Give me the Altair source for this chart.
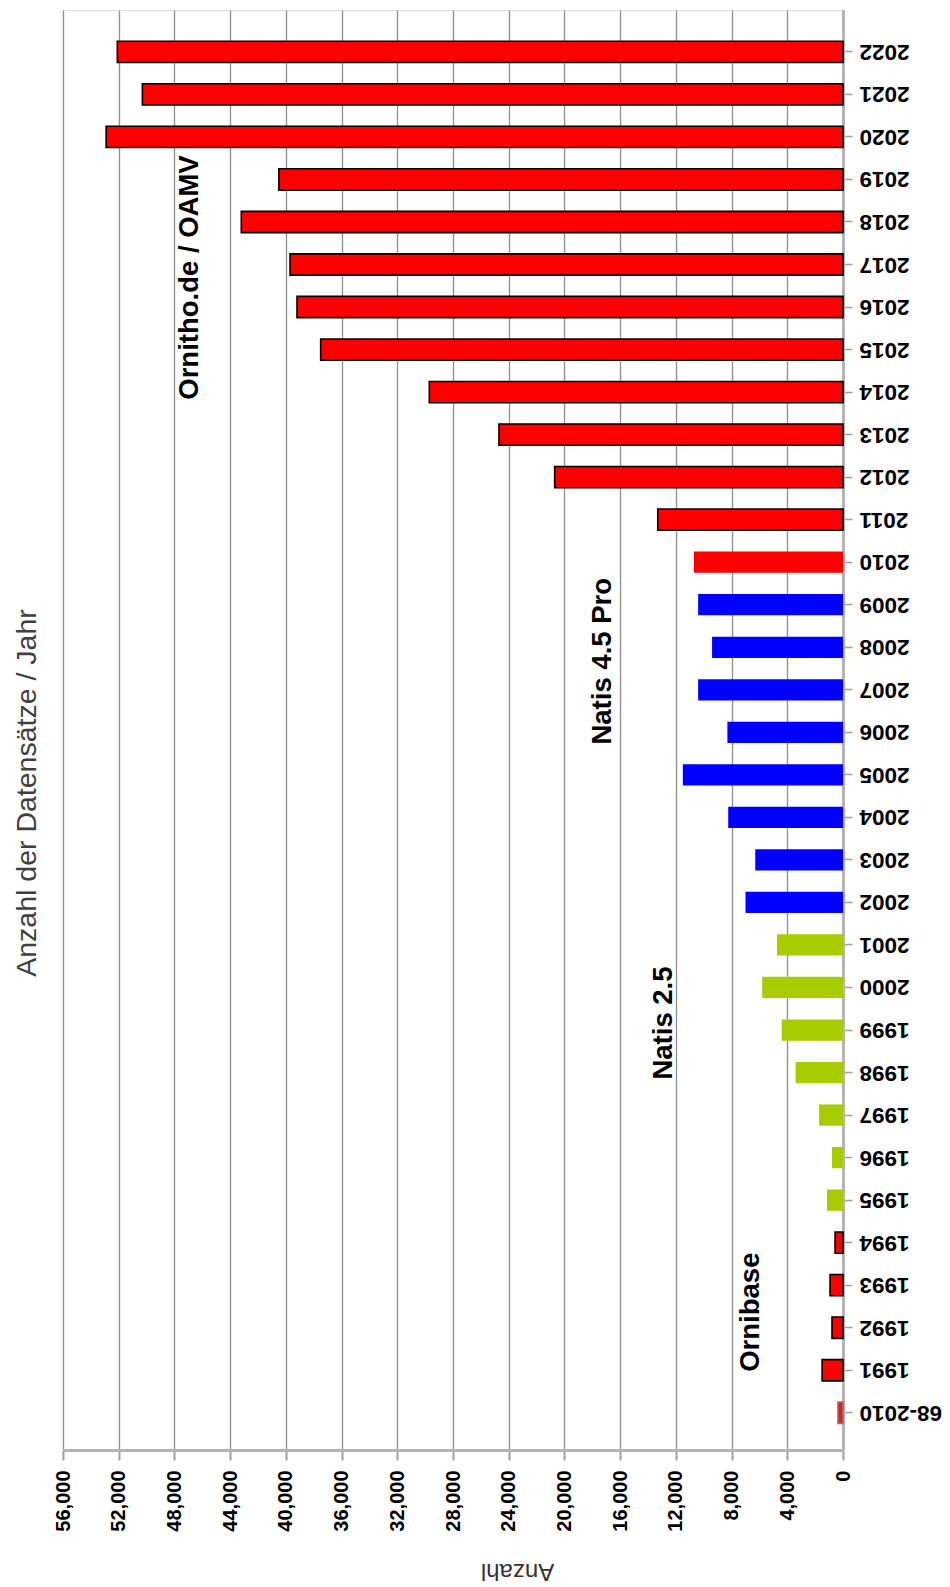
import altair as alt
import pandas as pd

# ---- data ----
years = ["68-2010", "1991", "1992", "1993", "1994", "1995", "1996", "1997",
         "1998", "1999", "2000", "2001", "2002", "2003", "2004", "2005",
         "2006", "2007", "2008", "2009", "2010", "2011", "2012", "2013",
         "2014", "2015", "2016", "2017", "2018", "2019", "2020", "2021", "2022"]
counts = [360, 1500, 790, 930, 570, 1150, 790, 1720,
          3400, 4400, 5800, 4740, 7000, 6300, 8240, 11500,
          8300, 10400, 9400, 10400, 10700, 13300, 20700, 24700,
          29700, 37500, 39200, 39700, 43200, 40500, 52900, 50300, 52100]
sources = (["Altdaten"] + ["Ornibase"] * 4 + ["Natis 2.5"] * 7 +
           ["Natis 4.5 Pro"] * 8 + ["Übergang"] + ["Ornitho"] * 12)

ann_text = ["Ornitho.de / OAMV", "Natis 4.5 Pro", "Natis 2.5", "Ornibase"]
ann_year = ["2017", "2008", "1999", "1993"]
ann_value = [46900, 17200, 12850, 6600]

x_ticks = list(range(0, 56001, 2000))

df = pd.DataFrame({"Jahr": years, "Anzahl": counts, "Quelle": sources})
ann = pd.DataFrame({"text": ann_text, "Jahr": ann_year, "Anzahl": ann_value})

FONT = "Liberation Sans"
order = list(reversed(years))

src_domain = ["Altdaten", "Ornibase", "Natis 2.5", "Natis 4.5 Pro", "Übergang", "Ornitho"]
fill_range = ["#a33a3a", "#ff0000", "#a8cc00", "#0000ff", "#ff0000", "#ff0000"]
stroke_range = ["#e05050", "#000000", "transparent", "transparent", "transparent", "#000000"]

x_enc = alt.X(
    "Anzahl:Q",
    scale=alt.Scale(domain=[0, 56000], reverse=True, nice=False, zero=True),
    axis=alt.Axis(
        values=x_ticks, format=",d", labelAngle=270, labelFont=FONT,
        labelFontSize=20, labelFontWeight="bold", labelColor="#000000",
        labelPadding=10, tickSize=10, tickColor="#a0a0a0", tickWidth=2,
        grid=True, gridColor="#8f8f8f", gridWidth=1.3,
        domainColor="#b4b4b4", domainWidth=3,
        title="Anzahl", titleAngle=180, titleFont=FONT, titleFontSize=24,
        titleFontWeight="normal", titleColor="#333333",
        titleX=454, titleY=120, titleAlign="center", titleBaseline="middle",
        labelFlush=False, labelOverlap=False,
    ),
)
y_enc = alt.Y(
    "Jahr:N",
    sort=order,
    scale=alt.Scale(paddingInner=0.5, paddingOuter=0.68, align=0.54),
    axis=alt.Axis(
        orient="right", title=None, labelAngle=180, labelFont=FONT,
        labelFontSize=22.5, labelFontWeight="bold", labelColor="#000000",
        labelPadding=7, tickSize=9, tickColor="#a0a0a0", tickWidth=1.5,
        domainColor="#b4b4b4", domainWidth=3, grid=False, labelOverlap=False,
    ),
)

bars = alt.Chart(df).mark_bar(strokeWidth=1.6).encode(
    x=x_enc,
    y=y_enc,
    fill=alt.Fill("Quelle:N", scale=alt.Scale(domain=src_domain, range=fill_range), legend=None),
    stroke=alt.Stroke("Quelle:N", scale=alt.Scale(domain=src_domain, range=stroke_range), legend=None),
)

ann_dx = {"Ornitho.de / OAMV": -13, "Natis 4.5 Pro": -14, "Natis 2.5": 7, "Ornibase": -27}
layers = [bars]
for label in ann_text:
    layers.append(
        alt.Chart(ann).transform_filter(alt.datum.text == label).mark_text(
            angle=270, font=FONT, fontSize=27.5, fontWeight="bold", color="#000000",
            align="center", baseline="middle", dx=ann_dx[label],
        ).encode(x="Anzahl:Q", y=alt.Y("Jahr:N", sort=order), text="text:N")
    )

chart = alt.layer(*layers).properties(
    width=780,
    height=1440,
    title=alt.TitleParams(
        "Anzahl der Datensätze / Jahr", orient="left", anchor="middle",
        font=FONT, fontSize=28.5, fontWeight="normal", color="#404040",
        offset=-2, dx=-63, baseline="middle",
    ),
    padding={"left": 55, "top": 2, "right": 99, "bottom": 137},
    autosize=alt.AutoSizeParams(type="none"),
).configure_view(stroke=None).configure(background="#ffffff")

chart.save("out.html", embed_options={"renderer": "svg", "actions": False})
